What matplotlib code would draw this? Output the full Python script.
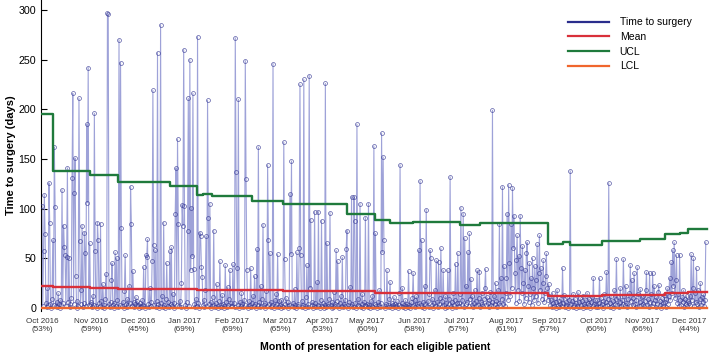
import matplotlib
matplotlib.use("Agg")
import matplotlib.pyplot as plt
import numpy as np
from matplotlib.lines import Line2D

plt.rcParams["font.family"] = ["Liberation Sans", "DejaVu Sans"]

# time to surgery (days) per patient, grouped by month of presentation
oct16 = [103, 2, 57, 114, 74, 5, 1, 20, 3, 126,
         86, 4, 0, 9, 68, 3, 162, 102, 2, 6,
         1, 15, 4, 0, 8, 3, 119, 5, 83, 61,
         53, 2, 51, 141, 6, 50, 1, 4, 10, 131,
         216, 4, 116, 151, 32, 0, 7, 2, 211, 67,
         4, 18, 83, 1, 5, 76, 55, 2, 185, 106,
         242, 3, 65, 6]
nov16 = [4, 1, 12, 3, 196, 57, 2, 0, 86, 68,
         5, 2, 85, 7, 1, 24, 3, 0, 9, 34,
         2, 297, 296, 4, 1, 6, 28, 45, 3, 0,
         5, 56, 2, 50, 8, 1, 270, 3, 247, 81,
         2, 6, 0, 17, 53, 4, 1, 9, 3, 22,
         5, 122, 85, 2, 37, 6, 1, 4, 11, 2,
         7]
dec16 = [3, 0, 5, 2, 1, 8, 3, 41, 2, 0,
         53, 51, 69, 4, 1, 20, 6, 2, 47, 219,
         63, 3, 58, 1, 7, 257, 4, 0, 2, 285,
         5, 12, 1, 86, 3, 0, 9, 45, 2, 6,
         1, 57, 4, 61, 2, 14, 0, 5, 95, 141,
         3, 170, 85, 2, 7, 1, 25, 104, 83, 260]
jan17 = [103, 3, 0, 6, 78, 211, 2, 250, 38, 101,
         52, 216, 39, 4, 1, 9, 2, 273, 5, 0,
         76, 72, 41, 31, 3, 8, 1, 18, 72, 2,
         209, 91, 4, 105, 0, 6, 2, 11, 78, 3,
         1, 5, 24, 2, 0, 7, 47, 3, 1, 13,
         4, 2, 0, 43, 6, 1, 21, 3, 9, 38,
         2, 5]
feb17 = [2, 44, 5, 1, 272, 137, 40, 3, 210, 0,
         6, 2, 15, 4, 1, 8, 3, 249, 130, 38,
         2, 0, 7, 3, 40, 1, 5, 12, 2, 32,
         4, 0, 59, 3, 162, 6, 1, 22, 2, 9,
         84, 3, 0, 5, 17, 2, 144, 68, 4, 55,
         1, 6, 3, 246, 0, 8, 2, 14, 4, 54,
         1, 7]
mar17 = [3, 0, 8, 2, 1, 167, 49, 4, 10, 2,
         0, 6, 3, 115, 54, 148, 2, 5, 1, 19,
         3, 0, 56, 4, 2, 60, 225, 53, 1, 7,
         3, 230, 2, 0, 11, 43, 4, 1, 234, 20,
         89, 3, 6, 0, 2, 97, 5, 1, 26, 3,
         97, 2, 0, 8, 88]
apr17 = [2, 5, 0, 3, 226, 1, 65, 4, 2, 9,
         96, 3, 0, 6, 1, 16, 4, 2, 58, 7,
         47, 3, 0, 5, 12, 2, 51, 1, 4, 8,
         2, 59, 78, 3, 0, 6, 21, 2, 112, 4,
         1, 112, 88, 5, 0, 185, 3, 9, 2, 105,
         1, 4, 14, 0, 6, 3, 91, 2]
may17 = [4, 1, 105, 3, 0, 7, 2, 12, 1, 163,
         4, 75, 2, 0, 6, 3, 18, 1, 5, 176,
         56, 152, 68, 2, 0, 4, 38, 3, 1, 9,
         26, 2, 5, 0, 3, 11, 1, 4, 2, 7,
         0, 3, 15, 144, 2, 5, 20, 1, 3, 0,
         8, 2, 4, 1, 37, 3, 0, 6, 2, 10,
         35]
jun17 = [3, 8, 1, 12, 4, 2, 58, 5, 128, 3,
         68, 1, 6, 0, 22, 4, 99, 2, 7, 1,
         14, 58, 50, 3, 9, 0, 5, 18, 2, 48,
         6, 1, 46, 4, 10, 60, 2, 7, 38, 3,
         0, 12, 5, 1, 38, 4, 9, 132, 2, 6,
         0, 15, 3, 8, 44, 1, 5, 55]
jul17 = [5, 2, 14, 101, 3, 8, 95, 1, 70, 4,
         22, 6, 56, 2, 75, 9, 29, 3, 12, 1,
         5, 18, 2, 7, 38, 3, 10, 36, 1, 6,
         15, 4, 2, 9, 20, 39, 3, 11, 5, 1,
         8, 16, 3, 6, 199, 2, 12, 4, 25, 7,
         1, 18, 5, 85, 3, 30, 9, 122, 4, 42,
         2, 15]
aug17 = [30, 95, 8, 124, 45, 12, 85, 20, 121, 60,
         93, 35, 5, 48, 73, 18, 52, 7, 93, 40,
         15, 62, 25, 4, 38, 10, 55, 66, 22, 6,
         45, 14, 30, 3, 50, 20, 8, 42, 12, 28,
         64, 5, 35, 73, 18, 40, 9, 25, 48, 6,
         15, 32, 55, 20, 8, 24]
sep17 = [12, 3, 8, 1, 15, 5, 2, 10, 0, 6,
         18, 3, 7, 1, 4, 9, 2, 40, 5, 13,
         1, 6, 3, 11, 0, 8, 2, 138, 4, 7,
         1, 14, 3, 9, 0, 5, 2, 16, 6, 1,
         10, 3, 7, 0, 12, 4, 2, 8, 1, 15,
         5, 3, 9, 0, 6, 11, 2, 30, 4, 8,
         1]
oct17 = [3, 8, 1, 5, 30, 2, 10, 4, 0, 7,
         14, 2, 6, 36, 3, 9, 126, 1, 5, 12,
         2, 7, 0, 18, 4, 9, 49, 3, 11, 1,
         6, 20, 2, 8, 4, 49, 12, 3, 22, 5,
         1, 9, 15, 2, 43, 7, 28, 3, 10, 35,
         4, 1, 8, 41, 14, 2, 6, 19, 3, 11]
nov17 = [4, 12, 2, 7, 18, 36, 3, 9, 1, 35,
         6, 14, 2, 35, 5, 22, 8, 1, 11, 4,
         16, 23, 3, 7, 0, 10, 5, 2, 13, 6,
         1, 9, 20, 4, 12, 30, 8, 46, 15, 58,
         22, 66, 10, 28, 53, 5, 14, 2, 53, 8,
         3, 11, 6, 18, 1, 9, 4, 12, 2, 7]
dec17 = [5, 12, 3, 54, 8, 20, 50, 2, 15, 6,
         40, 4, 18, 1, 9, 25, 3, 11, 6, 14,
         2, 8, 66]

months = [oct16, nov16, dec16, jan17, feb17, mar17, apr17, may17,
          jun17, jul17, aug17, sep17, oct17, nov17, dec17]
month_labels = ["Oct 2016", "Nov 2016", "Dec 2016", "Jan 2017", "Feb 2017",
                "Mar 2017", "Apr 2017", "May 2017", "Jun 2017", "Jul 2017",
                "Aug 2017", "Sep 2017", "Oct 2017", "Nov 2017", "Dec 2017"]
month_pct = [53, 59, 45, 69, 69, 65, 53, 60, 58, 57, 61, 57, 60, 66, 44]

# control-limit phases: patient index where limits were recalculated
phase_start = [0, 14, 62, 99, 166, 201, 209, 221, 273, 313, 396, 432, 452,
               482, 543, 569, 657, 677, 686, 727, 777, 809, 829, 839]
mean_vals = [22.3, 20.7, 19.7, 19.0, 19.0, 18.0, 18.0, 18.0, 18.0, 17.3,
             17.3, 15.3, 15.3, 15.3, 15.3, 15.3, 12.0, 12.0, 12.0, 13.0,
             13.0, 15.3, 15.3, 16.0]
ucl_vals = [195, 137.5, 134, 126.5, 123, 114, 115, 113, 108, 105, 95, 89,
            85.5, 86.5, 84, 85.7, 64, 66.7, 63.3, 67, 69.6, 74.7, 75.7, 79.7]
lcl_vals = [0] * len(phase_start)

days = np.concatenate(months)
n = len(days)
idx = np.arange(n)
month_start = np.cumsum([0] + [len(m) for m in months[:-1]])

fig = plt.figure(figsize=(7.09, 3.53), dpi=100)
ax = fig.add_axes([41 / 709, 1 - 311 / 353, 668 / 709, 311 / 353])

ax.plot(idx, days, color="#868bcf", lw=0.8, alpha=0.8, zorder=2)
ax.plot(idx, days, "o", ms=2.8, mfc="none", mec="#3a3d96", mew=0.5,
        alpha=0.85, zorder=3)

edges = phase_start + [n]
ax.step(edges, mean_vals + [mean_vals[-1]], where="post", color="#d9303a",
        lw=1.7, zorder=4)
ax.step(edges, ucl_vals + [ucl_vals[-1]], where="post", color="#1f7a3c",
        lw=1.7, zorder=4)
ax.step(edges, lcl_vals + [lcl_vals[-1]], where="post", color="#f0662d",
        lw=1.7, zorder=4)

ax.set_xlim(-1.3, 866.2)
ax.set_ylim(-3, 310)
ax.set_yticks(range(0, 301, 50))
ax.set_xticks(month_start)
ax.set_xticklabels([f"{m}\n({p}%)" for m, p in zip(month_labels, month_pct)],
                   fontsize=5.8, color="#333333", linespacing=1.3)
ax.tick_params(axis="x", length=0, pad=5)
ax.tick_params(axis="y", direction="in", labelsize=7.7, length=4, width=0.8,
               pad=3.5)
for s in ["top", "right", "bottom"]:
    ax.spines[s].set_visible(False)
ax.spines["left"].set_linewidth(0.8)

ax.set_ylabel("Time to surgery (days)", fontsize=8, fontweight="bold",
              labelpad=2)
ax.set_xlabel("Month of presentation for each eligible patient", fontsize=7.6,
              fontweight="bold", labelpad=6)

handles = [Line2D([], [], color="#2a2d8c", lw=1.6),
           Line2D([], [], color="#d9303a", lw=1.6),
           Line2D([], [], color="#1f7a3c", lw=1.6),
           Line2D([], [], color="#f0662d", lw=1.6)]
ax.legend(handles, ["Time to surgery", "Mean", "UCL", "LCL"],
          loc="upper right", bbox_to_anchor=(0.988, 0.975), frameon=False,
          fontsize=7.5, handlelength=4.0, handletextpad=1.0,
          labelspacing=0.45)

fig.savefig("out.png", dpi=100)
